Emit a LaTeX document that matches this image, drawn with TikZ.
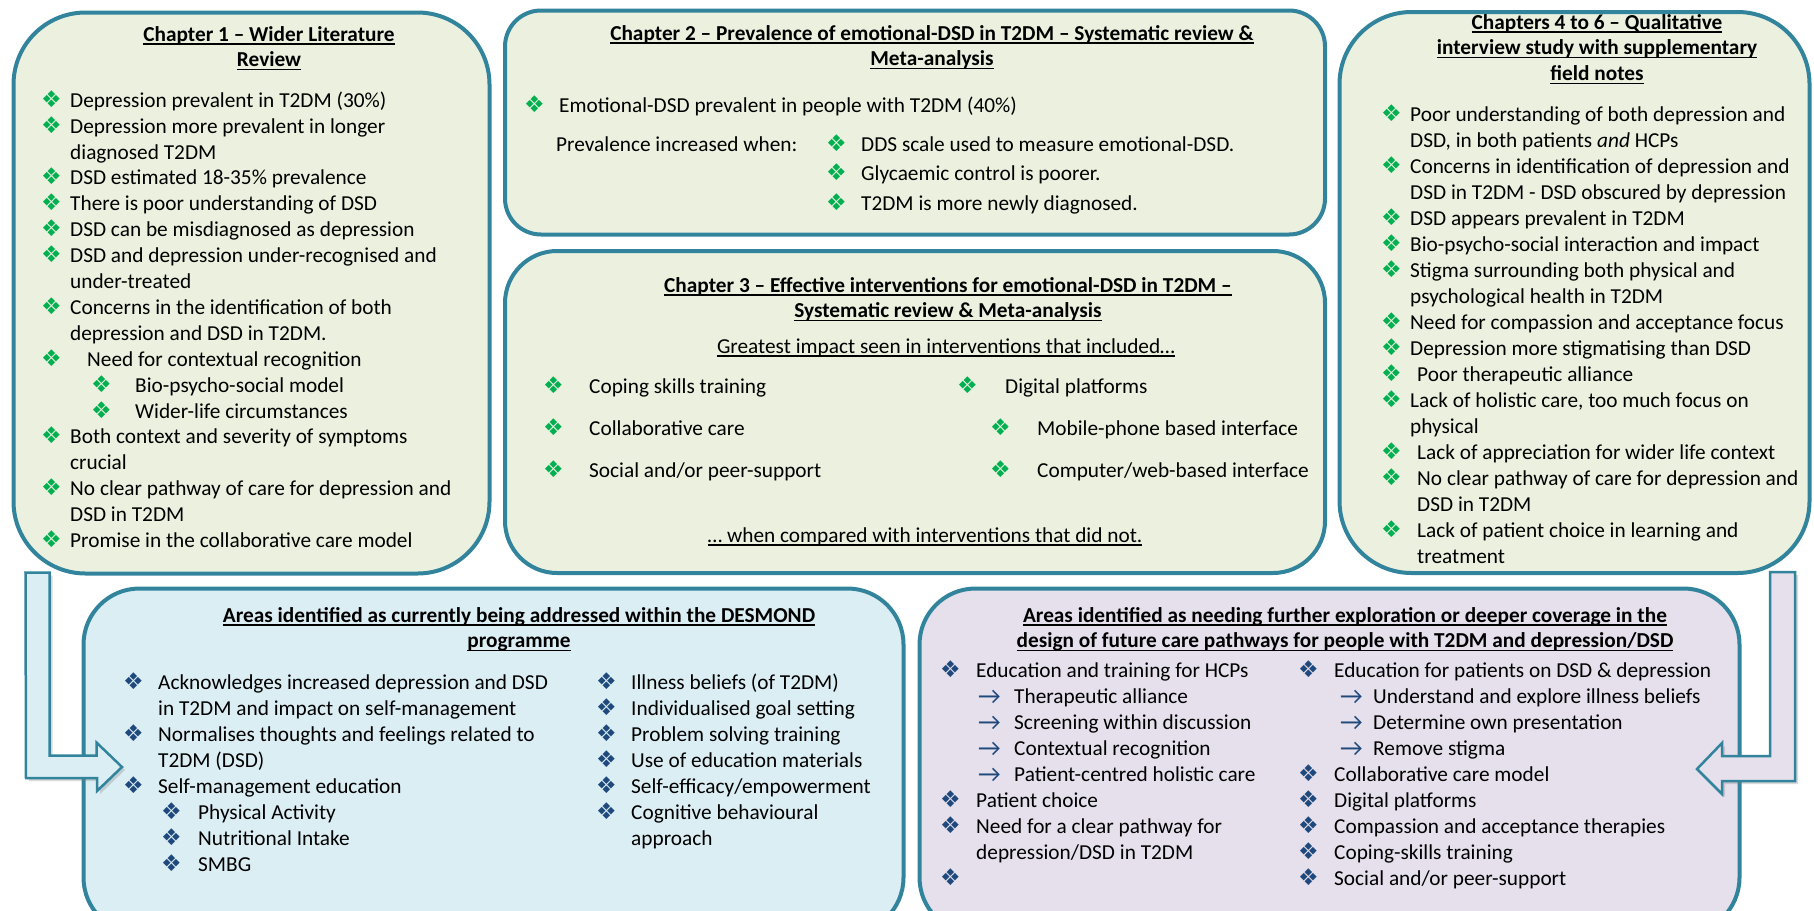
\documentclass[tikz,border=0pt]{standalone}
\usepackage{fontspec}
\setmainfont{Carlito}
\newfontfamily\symfont{DejaVu Sans}
\usepackage{xcolor}
\usepackage{tikz}
\usetikzlibrary{calc,shadows}

\definecolor{boxline}{HTML}{31849B}
\definecolor{chapfill}{HTML}{EBF1DE}
\definecolor{desfill}{HTML}{DBEEF4}
\definecolor{expfill}{HTML}{E5E0EC}
\definecolor{bulgreen}{HTML}{00B050}
\definecolor{bulblue}{HTML}{1F497D}

\newcommand{\uln}[1]{\setbox0\hbox{#1}\rlap{\rule[-3.5pt]{\wd0}{1.4pt}}\box0}
\newcommand{\gbul}{\textcolor{bulgreen}{\symfont\fontsize{23}{23}\selectfont ❖}}
\newcommand{\bbul}{\textcolor{bulblue}{\symfont\fontsize{23}{23}\selectfont ❖}}
\newcommand{\gi}[2][29pt]{\rule{0pt}{19pt}\makebox[#1][l]{\gbul}#2}
\newcommand{\bi}[2][35pt]{\rule{0pt}{19pt}\makebox[#1][l]{\bbul}#2}
\newcommand{\sarr}[2][36pt]{\makebox[#1][l]{\raisebox{-1.5pt}{\textcolor{bulblue}{\fontsize{25}{25}\selectfont →}}}#2}

\begin{document}
\begin{tikzpicture}[
    x=1pt, y=-1pt,
    box/.style={
        draw=boxline,
        line width=4pt,
        fill=chapfill,
        inner sep=0pt
    },
    desbox/.style={box, fill=desfill},
    expbox/.style={box, fill=expfill},
    ttl/.style={
        inner sep=0pt,
        anchor=north,
        align=center,
        font=\bfseries\fontsize{21.3}{25.7}\selectfont
    },
    txt/.style={
        inner sep=0pt,
        anchor=north west,
        align=left,
        font=\fontsize{21.3}{25.9}\selectfont
    },
    barr/.style={
        draw=boxline,
        line width=2.5pt,
        line join=miter,
        drop shadow={opacity=0.3, shadow xshift=3pt, shadow yshift=-3pt}
    }
]

\useasboundingbox (0,0) rectangle (1814,910);

\node[box, minimum width=476pt, minimum height=561pt, rounded corners=72pt] (lit) at (251.5,293) {};
\node[box, minimum width=820pt, minimum height=224pt, rounded corners=36pt] (prev) at (915,122.5) {};
\node[box, minimum width=820pt, minimum height=322pt, rounded corners=52pt] (interv) at (915,412) {};
\node[box, minimum width=470pt, minimum height=561pt, rounded corners=72pt] (qual) at (1574.5,292.5) {};
\node[desbox, minimum width=820pt, minimum height=345pt, rounded corners=56pt] (desmond) at (493.5,761) {};
\node[expbox, minimum width=820pt, minimum height=345pt, rounded corners=56pt] (explore) at (1329.5,761) {};

\coordinate (a1top) at ($(lit.south west)+(14,-3)$);
\coordinate (a1tip) at ($(desmond.west)+(40.5,6)$);
\coordinate (a2top) at ($(qual.south east)+(-16.5,-3)$);
\coordinate (a2tip) at ($(explore.east)+(-44.5,8)$);

\draw[barr, fill=desfill] (a1top) -- ++(24,0) -- ++(0,183) -- ++(47,0) -- ++(0,-13)
    -- (a1tip) -- ++(-25,24) -- ++(0,-13) -- ++(-71,0) -- cycle;
\draw[barr, fill=expfill] (a2top) -- ++(-25,0) -- ++(0,184) -- ++(-48,0) -- ++(0,-13)
    -- (a2tip) -- ++(25,25) -- ++(0,-13) -- ++(73,0) -- cycle;

\node[ttl] (littitle) at (269,22)
{\rule{0pt}{19pt}\uln{Chapter 1 -- Wider Literature}\\\uln{Review}};

\node[txt] (litlist) at (41,88)
{\gi{Depression prevalent in T2DM (30\%)}\\
\gi{Depression more prevalent in longer}\\
\hspace*{29pt}diagnosed T2DM\\
\gi{DSD estimated 18-35\% prevalence}\\
\gi{There is poor understanding of DSD}\\
\gi{DSD can be misdiagnosed as depression}\\
\gi{DSD and depression under-recognised and}\\
\hspace*{29pt}under-treated\\
\gi{Concerns in the identification of both}\\
\hspace*{29pt}depression and DSD in T2DM.\\
\gi[46pt]{Need for contextual recognition}\\
\hspace*{50pt}\gi[44pt]{Bio-psycho-social model}\\
\hspace*{50pt}\gi[44pt]{Wider-life circumstances}\\
\gi{Both context and severity of symptoms}\\
\hspace*{29pt}crucial\\
\gi{No clear pathway of care for depression and}\\
\hspace*{29pt}DSD in T2DM\\
\gi{Promise in the collaborative care model}};

\node[ttl] (prevtitle) at (932,21)
{\rule{0pt}{19pt}\uln{Chapter 2 -- Prevalence of emotional-DSD in T2DM -- Systematic review \&}\\\uln{Meta-analysis}};

\node[txt] (prevmain) at (524,93)
{\gi[35pt]{Emotional-DSD prevalent in people with T2DM (40\%)}};
\node[txt] (prevwhen) at (556,132)
{\rule{0pt}{19pt}Prevalence increased when:};
\node[txt, font=\fontsize{21.3}{29.5}\selectfont] (prevsub) at (826,132)
{\gi[35pt]{DDS scale used to measure emotional-DSD.}\\
\gi[35pt]{Glycaemic control is poorer.}\\
\gi[35pt]{T2DM is more newly diagnosed.}};

\node[ttl] (intertitle) at (948,273)
{\rule{0pt}{19pt}\uln{Chapter 3 -- Effective interventions for emotional-DSD in T2DM --}\\\uln{Systematic review \& Meta-analysis}};

\node[txt, anchor=north] (intergreat) at (946,334)
{\rule{0pt}{19pt}\uln{Greatest impact seen in interventions that included…}};

\node[txt, font=\fontsize{21.3}{42}\selectfont] (interleft) at (543,374)
{\gi[46pt]{Coping skills training}\\
\gi[46pt]{Collaborative care}\\
\gi[46pt]{Social and/or peer-support}};
\node[txt] (interdig) at (957,374)
{\gi[48pt]{Digital platforms}};
\node[txt, font=\fontsize{21.3}{42}\selectfont] (intersub) at (990,416)
{\gi[47pt]{Mobile-phone based interface}\\
\gi[47pt]{Computer/web-based interface}};

\node[txt, anchor=north] (interend) at (925,523)
{\rule{0pt}{19pt}\uln{… when compared with interventions that did not.}};

\node[ttl] (qualtitle) at (1597,10)
{\rule{0pt}{19pt}\uln{Chapters 4 to 6 -- Qualitative}\\\uln{interview study with supplementary}\\\uln{field notes}};

\node[txt, font=\fontsize{21.3}{26}\selectfont] (quallist) at (1381,102)
{\gi{Poor understanding of both depression and}\\
\hspace*{29pt}DSD, in both patients \textit{and} HCPs\\
\gi{Concerns in identification of depression and}\\
\hspace*{29pt}DSD in T2DM - DSD obscured by depression\\
\gi{DSD appears prevalent in T2DM}\\
\gi{Bio-psycho-social interaction and impact}\\
\gi{Stigma surrounding both physical and}\\
\hspace*{29pt}psychological health in T2DM\\
\gi{Need for compassion and acceptance focus}\\
\gi{Depression more stigmatising than DSD}\\
\gi[36pt]{Poor therapeutic alliance}\\
\gi{Lack of holistic care, too much focus on}\\
\hspace*{29pt}physical\\
\gi[36pt]{Lack of appreciation for wider life context}\\
\gi[36pt]{No clear pathway of care for depression and}\\
\hspace*{36pt}DSD in T2DM\\
\gi[36pt]{Lack of patient choice in learning and}\\
\hspace*{36pt}treatment};

\node[ttl] (destitle) at (519,603)
{\rule{0pt}{19pt}\uln{Areas identified as currently being addressed within the DESMOND}\\\uln{programme}};

\node[txt, font=\fontsize{21.3}{26}\selectfont] (desleft) at (123,670)
{\bi{Acknowledges increased depression and DSD}\\
\hspace*{35pt}in T2DM and impact on self-management\\
\bi{Normalises thoughts and feelings related to}\\
\hspace*{35pt}T2DM (DSD)\\
\bi{Self-management education}\\
\hspace*{38pt}\bi[37pt]{Physical Activity}\\
\hspace*{38pt}\bi[37pt]{Nutritional Intake}\\
\hspace*{38pt}\bi[37pt]{SMBG}};

\node[txt, font=\fontsize{21.3}{26}\selectfont] (desright) at (596,670)
{\bi{Illness beliefs (of T2DM)}\\
\bi{Individualised goal setting}\\
\bi{Problem solving training}\\
\bi{Use of education materials}\\
\bi{Self-efficacy/empowerment}\\
\bi{Cognitive behavioural}\\
\hspace*{35pt}approach};

\node[ttl] (exptitle) at (1345,603)
{\rule{0pt}{19pt}\uln{Areas identified as needing further exploration or deeper coverage in the}\\\uln{design of future care pathways for people with T2DM and depression/DSD}};

\node[txt, font=\fontsize{21.3}{26}\selectfont] (expleft) at (940,658)
{\bi[36pt]{Education and training for HCPs}\\
\hspace*{38pt}\sarr{Therapeutic alliance}\\
\hspace*{38pt}\sarr{Screening within discussion}\\
\hspace*{38pt}\sarr{Contextual recognition}\\
\hspace*{38pt}\sarr{Patient-centred holistic care}\\
\bi[36pt]{Patient choice}\\
\bi[36pt]{Need for a clear pathway for}\\
\hspace*{36pt}depression/DSD in T2DM\\
\bi[36pt]{}};

\node[txt, font=\fontsize{21.3}{26}\selectfont] (expright) at (1298,658)
{\bi[36pt]{Education for patients on DSD \& depression}\\
\hspace*{42pt}\sarr[33pt]{Understand and explore illness beliefs}\\
\hspace*{42pt}\sarr[33pt]{Determine own presentation}\\
\hspace*{42pt}\sarr[33pt]{Remove stigma}\\
\bi[36pt]{Collaborative care model}\\
\bi[36pt]{Digital platforms}\\
\bi[36pt]{Compassion and acceptance therapies}\\
\bi[36pt]{Coping-skills training}\\
\bi[36pt]{Social and/or peer-support}};

\end{tikzpicture}
\end{document}
